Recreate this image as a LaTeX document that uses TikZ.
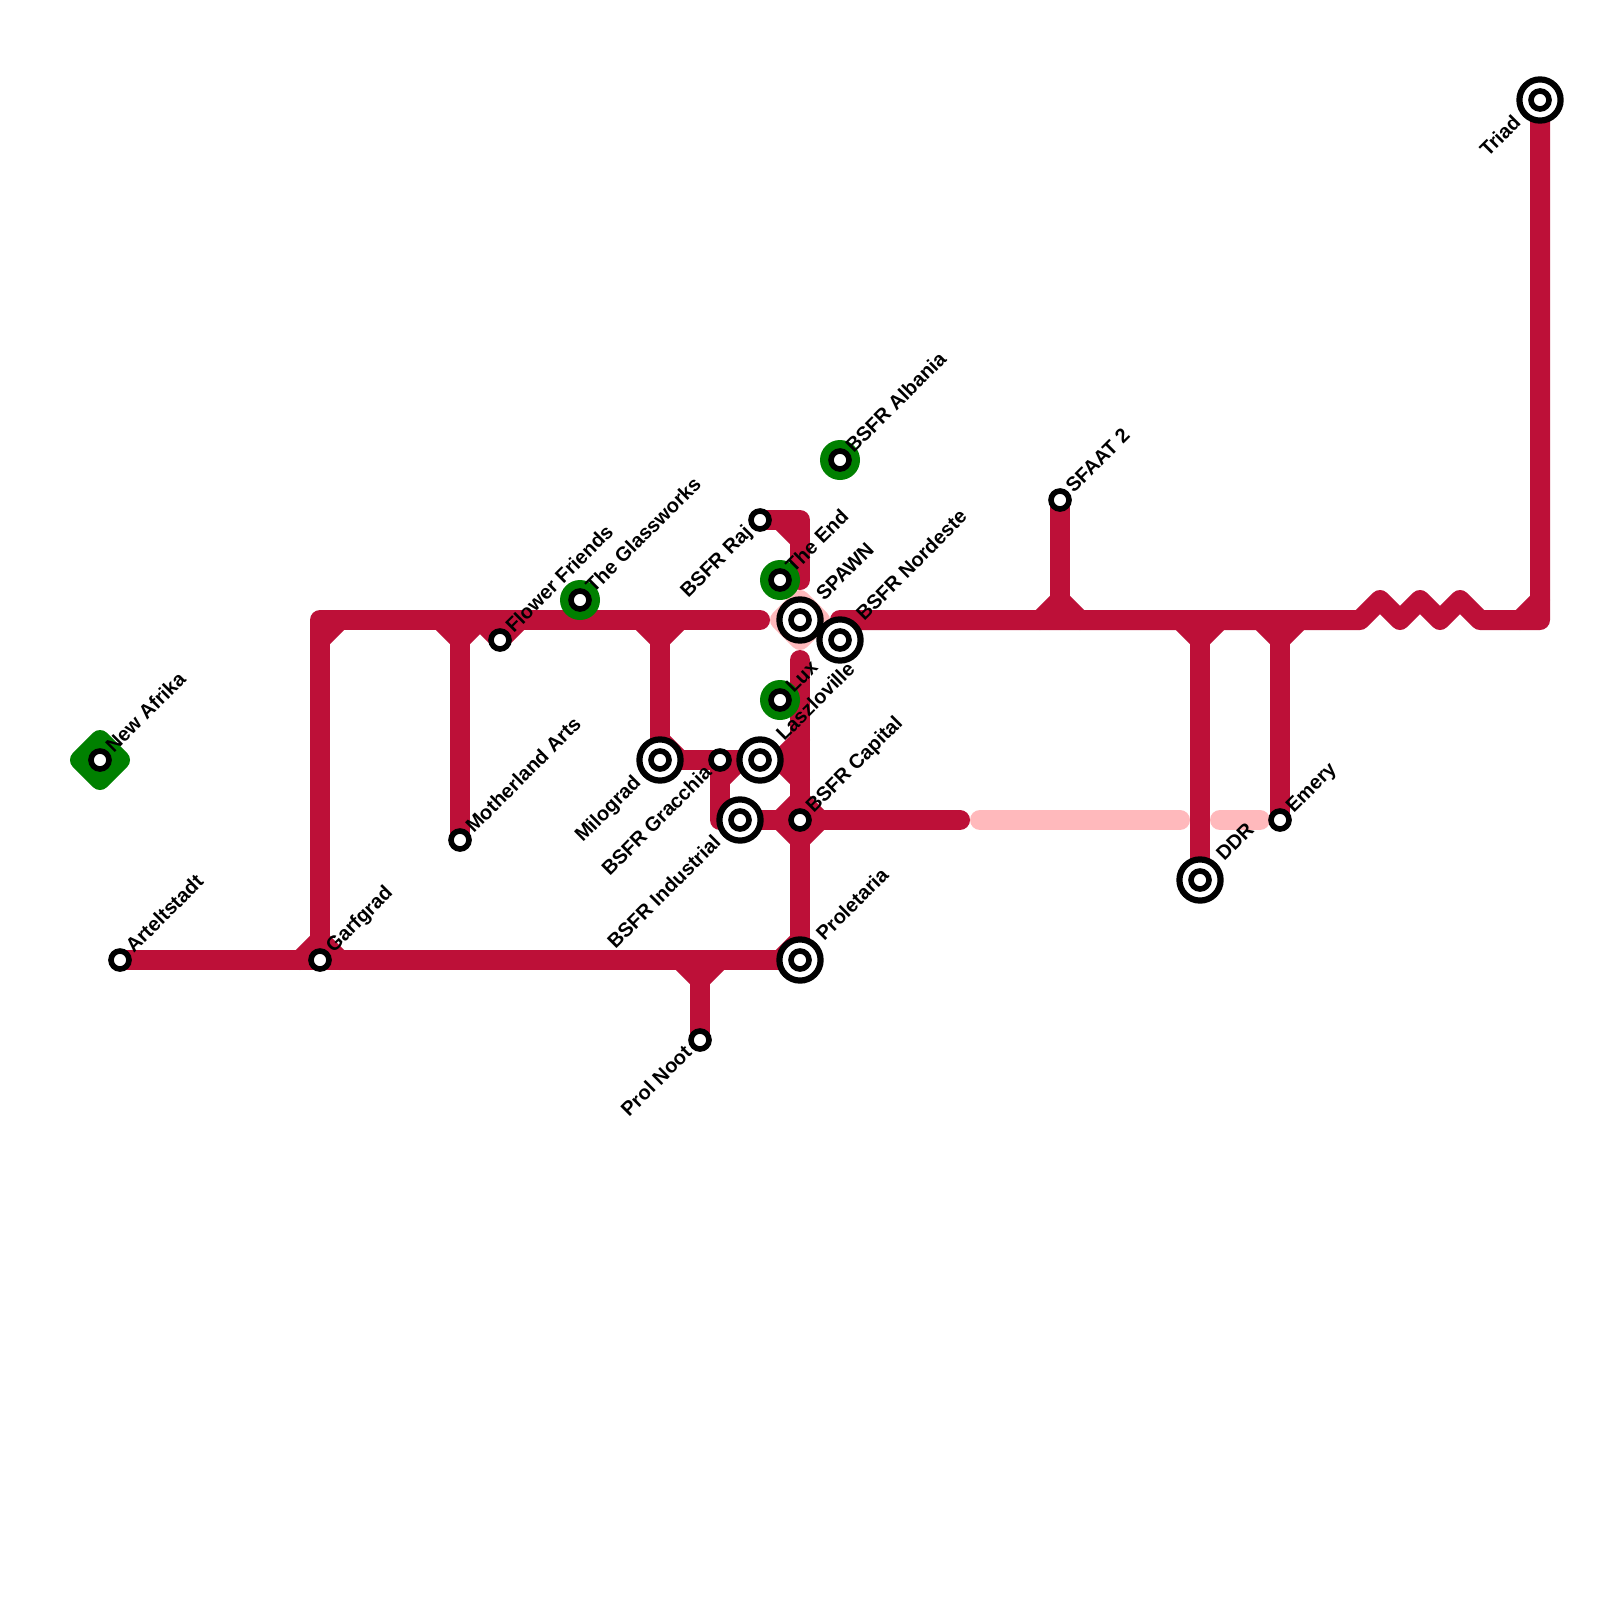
\documentclass[tikz,border=0pt]{standalone}
\usepackage{fontspec}
\setmainfont{Liberation Sans}
\usetikzlibrary{calc}
\definecolor{metro}{HTML}{BD1038}
\definecolor{pale}{HTML}{FFB9BC}
\definecolor{halo}{HTML}{008000}
\pgfdeclarelayer{under}
\pgfsetlayers{under,main}
\tikzset{
  x=0.5pt,y=-0.5pt,
  trunk/.style={draw=metro,line width=10pt,line cap=round,line join=round},
  ghost/.style={draw=pale,line width=10pt,line cap=round,line join=round},
  stub/.style={draw=metro,line width=10pt,line cap=round,line join=round},
  plain/.style={circle,draw=black,fill=white,line width=2.8pt,minimum size=9pt,inner sep=0pt,outer sep=0pt},
  ring/.style={circle,draw=black,fill=white,line width=3.1pt,minimum size=20.6pt,inner sep=0pt,outer sep=0pt},
  disc/.style={circle,fill=halo,minimum size=20pt,inner sep=0pt,outer sep=0pt},
  lab/.style={font=\fontsize{10pt}{12pt}\selectfont\bfseries,text=black,rotate=45,inner sep=0pt,text height=7.2pt,text depth=0pt},
  rlab/.style={lab,anchor=west},
  llab/.style={lab,anchor=east},
}
\newcommand{\smallst}[2]{\node[plain] (#1) at (#2) {};}
\newcommand{\bigst}[2]{\node[ring] (#1) at (#2) {}; \node[plain] (#1-in) at (#2) {};}
\newcommand{\greenst}[2]{\node[disc] (#1-disc) at (#2) {}; \node[plain] (#1) at (#2) {};}
\newcommand{\rsmall}[3]{\node[rlab] (#1-t) at ($(#2.center)+(8.5,-11)$) {#3};}
\newcommand{\rbig}[3]{\node[rlab] (#1-t) at ($(#2.center)+(19,-23)$) {#3};}
\newcommand{\lsmall}[3]{\node[llab] (#1-t) at ($(#2.center)+(-12,8.5)$) {#3};}
\newcommand{\lbig}[3]{\node[llab] (#1-t) at ($(#2.center)+(-23,18.5)$) {#3};}
\begin{document}
\begin{tikzpicture}
% stations
\smallst{afrika}{100,760}
\greenst{glass}{580,600}
\greenst{theend}{780,580}
\greenst{lux}{780,700}
\greenst{albania}{840,460}
\smallst{artel}{120,960}
\smallst{garf}{320,960}
\smallst{flower}{500,640}
\smallst{raj}{760,520}
\smallst{gracchia}{720,760}
\smallst{capital}{800,820}
\smallst{noot}{700,1040}
\smallst{mother}{460,840}
\smallst{sfaat}{1060,500}
\smallst{emery}{1280,820}
\bigst{triad}{1540,100}
\bigst{spawn}{800,620}
\bigst{nordeste}{840,640}
\bigst{laszlo}{760,760}
\bigst{milograd}{660,760}
\bigst{industrial}{740,820}
\bigst{proletaria}{800,960}
\bigst{ddr}{1200,880}
% labels
\rsmall{a}{afrika}{New Afrika}
\rsmall{b}{glass}{The Glassworks}
\rsmall{c}{theend}{The End}
\rsmall{d}{lux}{Lux}
\rsmall{e}{albania}{BSFR Albania}
\rsmall{f}{artel}{Arteltstadt}
\rsmall{g}{garf}{Garfgrad}
\rsmall{h}{flower}{Flower Friends}
\rsmall{i}{capital}{BSFR Capital}
\rsmall{j}{mother}{Motherland Arts}
\rsmall{k}{sfaat}{SFAAT 2}
\rsmall{l}{emery}{Emery}
\rbig{m}{spawn}{SPAWN}
\rbig{n}{nordeste}{BSFR Nordeste}
\rbig{o}{laszlo}{Laszloville}
\rbig{p}{proletaria}{Proletaria}
\rbig{q}{ddr}{DDR}
\lsmall{r}{raj}{BSFR Raj}
\lsmall{s}{gracchia}{BSFR Gracchia}
\lsmall{t}{noot}{Prol Noot}
\lbig{u}{triad}{Triad}
\lbig{v}{milograd}{Milograd}
\lbig{w}{industrial}{BSFR Industrial}
\begin{pgfonlayer}{under}
\path[use as bounding box,fill=white] (0,0) rectangle (1600,1600);
% junctions and bends
\coordinate (cornerNW) at (320,620);
\coordinate (westEnd) at (760,620);
\coordinate (eastStart) at (840,620);
\coordinate (zigA) at (1360,620);
\coordinate (cornerE) at (1540,620);
\coordinate (j460) at (460,640);
\coordinate (j660) at (660,640);
\coordinate (j700) at (700,980);
\coordinate (j1060) at (1060,600);
\coordinate (j1200) at (1200,640);
\coordinate (j1280) at (1280,640);
\coordinate (luxTop) at (800,660);
\coordinate (rajCorner) at (800,520);
\coordinate (rajEnd) at (800,580);
\coordinate (redEnd) at (960,820);
\coordinate (paleA) at (980,820);
\coordinate (paleB) at (1180,820);
\coordinate (paleC) at (1220,820);
\coordinate (paleD) at (1260,820);
\coordinate (gracCorner) at (720,820);
% pale pieces
\draw[ghost] (paleA) -- (paleB);
\draw[ghost] (paleC) -- (paleD);
\fill[pale,draw=pale,line width=10pt,line join=round] (spawn.center) ++(0,-20) -- ++(20,20) -- ++(-20,20) -- ++(-20,-20) -- cycle;
% New Afrika diamond
\fill[halo,draw=halo,line width=10pt,line join=round] (afrika.center) ++(0,-20) -- ++(20,20) -- ++(-20,20) -- ++(-20,-20) -- cycle;
% trunks
\draw[trunk] (garf.center) -- (cornerNW) -- (westEnd);
\draw[trunk] (artel.center) -- (proletaria.center);
\draw[trunk] (eastStart) -- (zigA) -- ++(20,-20) -- ++(20,20) -- ++(20,-20) -- ++(20,20) -- ++(20,-20) -- ++(20,20) -- (cornerE) -- (triad.center);
\draw[trunk] (luxTop) -- (proletaria.center);
\draw[trunk] (raj.center) -- (rajCorner) -- (rajEnd);
\draw[trunk] (milograd.center) -- (laszlo.center) -- ++(20,0);
\draw[trunk] (gracchia.center) -- (gracCorner) -- (redEnd);
% branches
\draw[trunk] (mother.center) -- (j460);
\draw[trunk] (milograd.center) -- (j660);
\draw[trunk] (noot.center) -- (j700);
\draw[trunk] (sfaat.center) -- (j1060);
\draw[trunk] (ddr.center) -- (j1200);
\draw[trunk] (emery.center) -- (j1280);
% diagonal fillets
\draw[stub] (j460) ++(-20,-20) -- (j460) -- ++(20,-20);
\draw[stub] (j660) ++(-20,-20) -- (j660) -- ++(20,-20);
\draw[stub] (j700) ++(-20,-20) -- (j700) -- ++(20,-20);
\draw[stub] (j1060) ++(-20,20) -- (j1060) -- ++(20,20);
\draw[stub] (j1200) ++(-20,-20) -- (j1200) -- ++(20,-20);
\draw[stub] (j1280) ++(-20,-20) -- (j1280) -- ++(20,-20);
\draw[stub] (flower.center) ++(-20,-20) -- (flower.center) -- ++(20,-20);
\draw[stub] (cornerNW) ++(0,20) -- ++(20,-20);
\draw[stub] (garf.center) ++(-20,0) -- ++(20,-20) -- ++(20,20);
\draw[stub] (cornerE) ++(-20,0) -- ++(20,-20);
\draw[stub] (rajCorner) ++(-20,0) -- ++(20,20);
\draw[stub] (proletaria.center) ++(-20,0) -- ++(20,-20);
\draw[stub] (capital.center) ++(-20,0) -- ++(20,20) -- ++(20,-20);
\draw[stub] (capital.center) ++(-20,0) -- ++(20,-20) -- ++(20,20);
\draw[stub] (laszlo.center) ++(20,0) -- ++(20,-20);
\draw[stub] (laszlo.center) ++(20,0) -- ++(20,20);
\draw[stub] (gracchia.center) ++(0,20) -- ++(20,-20);
\draw[stub] (milograd.center) ++(0,-20) -- ++(20,20);
\end{pgfonlayer}
\end{tikzpicture}
\end{document}
